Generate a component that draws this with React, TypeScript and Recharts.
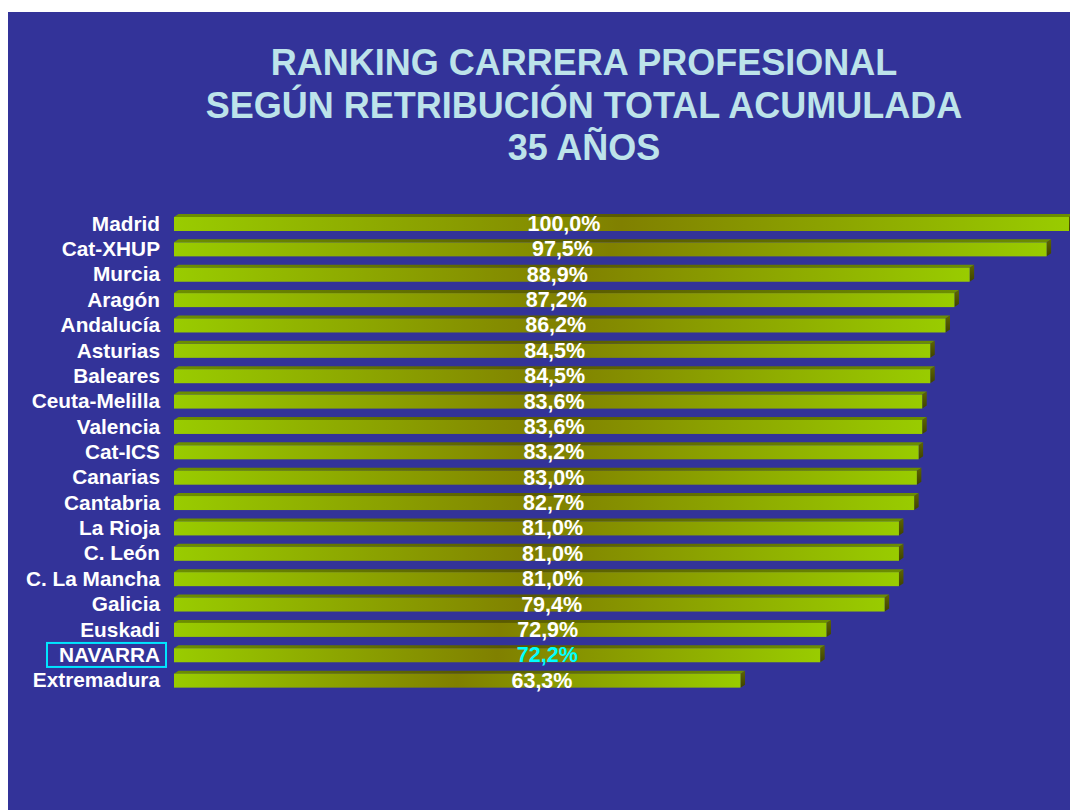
import { Bar, BarChart, LabelList, XAxis, YAxis } from "recharts";

const categories = [
  "Madrid",
  "Cat-XHUP",
  "Murcia",
  "Aragón",
  "Andalucía",
  "Asturias",
  "Baleares",
  "Ceuta-Melilla",
  "Valencia",
  "Cat-ICS",
  "Canarias",
  "Cantabria",
  "La Rioja",
  "C. León",
  "C. La Mancha",
  "Galicia",
  "Euskadi",
  "NAVARRA",
  "Extremadura",
];
const values = [
  100.0, 97.5, 88.9, 87.2, 86.2, 84.5, 84.5, 83.6, 83.6, 83.2, 83.0, 82.7, 81.0,
  81.0, 81.0, 79.4, 72.9, 72.2, 63.3,
];
const titleLines = [
  "RANKING CARRERA PROFESIONAL",
  "SEGÚN RETRIBUCIÓN TOTAL ACUMULADA",
  "35 AÑOS",
];
const highlighted = "NAVARRA";

const data = categories.map((name, i) => ({ name, value: values[i] }));

const BG = "#333399";
const TITLE_COLOR = "#BDE3EA";
const FONT = "'Liberation Sans', Arial, sans-serif";
const DX = 4.5;
const DY = 3;

const formatPct = (v: number) => v.toFixed(1).replace(".", ",") + "%";

function Bar3D(props: any) {
  const { x, y, width, height } = props;
  if (!width || width <= 0) return null;
  const r = x + width;
  return (
    <g>
      <polygon
        points={`${x},${y} ${x + DX},${y - DY} ${r + DX},${y - DY} ${r},${y}`}
        fill="url(#topGrad)"
      />
      <polygon
        points={`${r},${y} ${r + DX},${y - DY} ${r + DX},${y + height - DY} ${r},${y + height}`}
        fill="url(#sideGrad)"
      />
      <rect x={x} y={y} width={width} height={height} fill="url(#frontGrad)" />
    </g>
  );
}

function CategoryTick(props: any) {
  const { x, y, payload } = props;
  const right = x - 14;
  const isHi = payload.value === highlighted;
  return (
    <g>
      {isHi && (
        <rect
          x={right - 113}
          y={y - 12}
          width={119}
          height={24}
          fill="none"
          stroke="#00E5FF"
          strokeWidth={2}
        />
      )}
      <text
        x={right}
        y={y + 7}
        textAnchor="end"
        fill="#FFFFFF"
        fontFamily={FONT}
        fontWeight="bold"
        fontSize={20.8}
      >
        {payload.value}
      </text>
    </g>
  );
}

function ValueLabel(props: any) {
  const { x, y, width, height, value, index } = props;
  const isHi = categories[index] === highlighted;
  return (
    <text
      x={x + 330 + width * 0.067}
      y={y + height}
      textAnchor="middle"
      fill={isHi ? "#00FFFF" : "#FFFFFF"}
      fontFamily={FONT}
      fontWeight="bold"
      fontSize={21.5}
    >
      {formatPct(value)}
    </text>
  );
}

export default function App() {
  return (
    <div style={{ paddingTop: 4 }}>
      <div
        style={{
          position: "relative",
          width: 1070,
          height: 798,
          background: BG,
          overflow: "hidden",
        }}
      >
        <svg
          width={1070}
          height={798}
          style={{ position: "absolute", left: 0, top: 0, pointerEvents: "none" }}
        >
          {titleLines.map((line, i) => (
            <text
              key={line}
              x={576}
              y={63 + i * 42.5}
              textAnchor="middle"
              fill={TITLE_COLOR}
              fontFamily={FONT}
              fontWeight="bold"
              fontSize={36}
            >
              {line}
            </text>
          ))}
        </svg>
        <BarChart
          width={1070}
          height={798}
          data={data}
          layout="vertical"
          margin={{ top: 199, right: 9, bottom: 117, left: 0 }}
          style={{ position: "absolute", left: 0, top: 0 }}
        >
          <defs>
            <linearGradient id="frontGrad" x1="0" y1="0" x2="1" y2="0">
              <stop offset="0%" stopColor="#99CC00" />
              <stop offset="50%" stopColor="#808000" />
              <stop offset="100%" stopColor="#99CC00" />
            </linearGradient>
            <linearGradient id="topGrad" x1="0" y1="0" x2="1" y2="0">
              <stop offset="0%" stopColor="#6C8F00" />
              <stop offset="50%" stopColor="#5A5A00" />
              <stop offset="100%" stopColor="#6C8F00" />
            </linearGradient>
            <linearGradient id="sideGrad" x1="0" y1="0" x2="0" y2="1">
              <stop offset="0%" stopColor="#5E6600" />
              <stop offset="100%" stopColor="#3F4200" />
            </linearGradient>
          </defs>
          <XAxis type="number" domain={[0, 100]} hide />
          <YAxis
            type="category"
            dataKey="name"
            width={166}
            axisLine={false}
            tickLine={false}
            tickSize={0}
            tickMargin={0}
            interval={0}
            tick={<CategoryTick />}
          />
          <Bar
            dataKey="value"
            barSize={14}
            shape={<Bar3D />}
            isAnimationActive={false}
          >
            <LabelList dataKey="value" content={<ValueLabel />} />
          </Bar>
        </BarChart>
      </div>
    </div>
  );
}
